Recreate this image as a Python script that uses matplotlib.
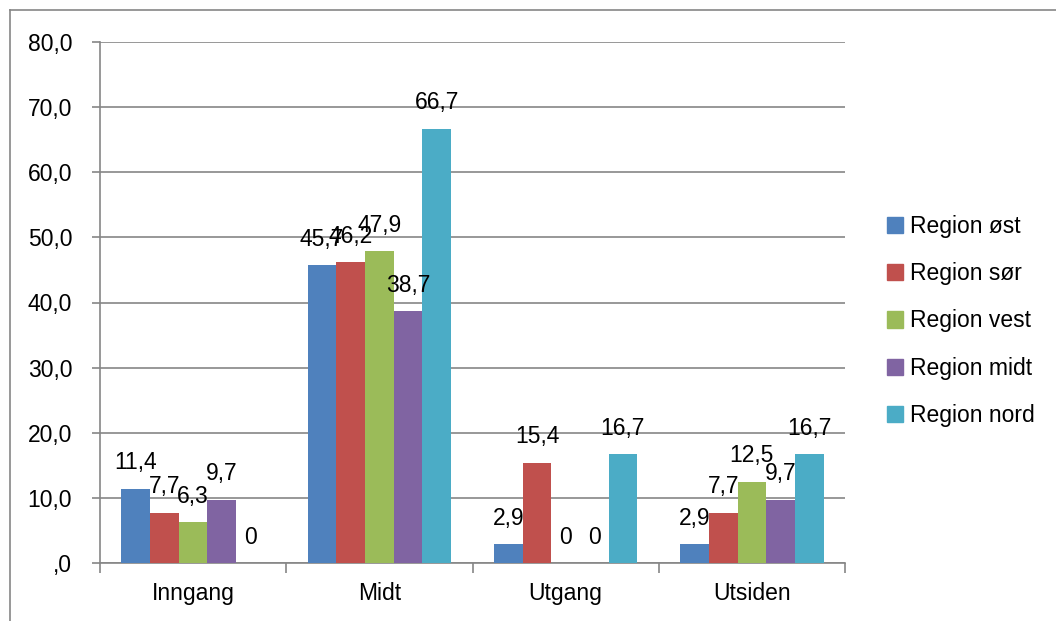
import matplotlib
matplotlib.use("Agg")
import matplotlib.pyplot as plt
import numpy as np
from matplotlib.patches import Rectangle
from matplotlib.lines import Line2D

categories = ["Inngang", "Midt", "Utgang", "Utsiden"]
series_names = ["Region øst", "Region sør", "Region vest", "Region midt", "Region nord"]
ost = [11.4, 45.7, 2.9, 2.9]
sor = [7.7, 46.2, 15.4, 7.7]
vest = [6.3, 47.9, 0, 12.5]
midt = [9.7, 38.7, 0, 9.7]
nord = [0, 66.7, 16.7, 16.7]
series_values = [ost, sor, vest, midt, nord]
colors = ["#4F81BD", "#C0504D", "#9BBB59", "#8064A2", "#4BACC6"]
yticks = [0, 10, 20, 30, 40, 50, 60, 70, 80]
ytick_labels = [",0", "10,0", "20,0", "30,0", "40,0", "50,0", "60,0", "70,0", "80,0"]

plt.rcParams['font.family'] = ['Liberation Sans', 'DejaVu Sans']
fs = 16.5

fig = plt.figure(figsize=(10.56, 6.21), dpi=100)
ax = fig.add_axes([100/1056, 1-563/621, 745/1056, (563-42)/621])

n = len(series_values)
w = 1/(n+1.5)
x = np.arange(len(categories))
for i, (vals, c, name) in enumerate(zip(series_values, colors, series_names)):
    pos = x - (n*w)/2 + w*(i+0.5)
    bars = ax.bar(pos, vals, width=w, color=c, label=name, zorder=3)
    for b, v in zip(bars, vals):
        lab = ("%.1f" % v).replace(".", ",") if v != 0 else "0"
        ax.annotate(lab, (b.get_x()+b.get_width()/2, v), xytext=(0, 14),
                    textcoords="offset points", ha="center", va="baseline",
                    fontsize=fs, zorder=4)

ax.set_xlim(-0.5, len(categories)-0.5)
ax.set_ylim(0, 80)
ax.set_yticks(yticks)
ax.set_yticklabels(ytick_labels, fontsize=fs)
ax.set_xticks(x)
ax.set_xticklabels(categories, fontsize=fs)
ax.tick_params(axis='x', length=0, pad=14)
ax.set_xticks(np.arange(-0.5, len(categories)), minor=True)
ax.tick_params(axis='x', which='minor', length=7, color='#868686', width=1.2)
ax.tick_params(axis='y', length=6, color='#868686', width=1.2, pad=14)
ax.grid(axis='y', color='#868686', linewidth=1.2, zorder=0)
for s in ['top', 'right']:
    ax.spines[s].set_visible(False)
for s in ['left', 'bottom']:
    ax.spines[s].set_color('#868686')
    ax.spines[s].set_linewidth(1.2)

handles = [Rectangle((0, 0), 1, 1, color=c) for c in colors]
fig.legend(handles, series_names, loc='center left', bbox_to_anchor=(866/1056, 1-321/621),
           frameon=False, fontsize=fs, handlelength=0.7, handleheight=0.7,
           handletextpad=0.3, labelspacing=1.05)

fig.add_artist(Line2D([10/1056, 10/1056], [0, 1-10/621], color='#868686', lw=1.2, transform=fig.transFigure))
fig.add_artist(Line2D([10/1056, 1], [1-10/621, 1-10/621], color='#868686', lw=1.2, transform=fig.transFigure))

fig.savefig("out.png", dpi=100)
